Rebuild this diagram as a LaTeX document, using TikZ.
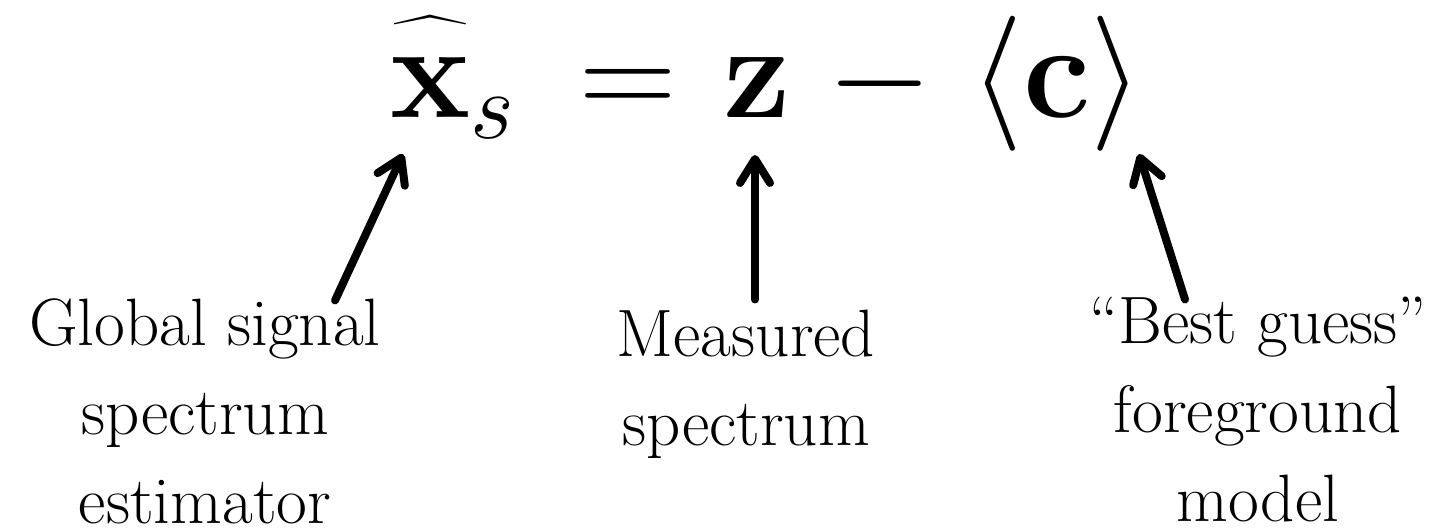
\documentclass[tikz,border=0pt]{standalone}
\usepackage{fix-cm}
\usepackage{exscale}
\usetikzlibrary{arrows.meta,calc}

\begin{document}
\begin{tikzpicture}[
    x=0.5pt,
    y=-0.5pt,
    term/.style={
        inner sep=0pt,
        anchor=base,
        font=\fontsize{67.5}{80}\selectfont
    },
    descr/.style={
        inner sep=0pt,
        anchor=north,
        align=center,
        font=\fontsize{33.5}{44.5}\selectfont
    },
    pointer/.style={
        line width=4pt,
        line cap=round,
        -{Straight Barb[round,length=12pt,width=15pt]}
    }
]

\useasboundingbox (0,0) rectangle (1444,528);

\node[term, anchor=base west] (xhat) at (390,118) {$\widehat{\mathbf{x}\vphantom{\mathbf{t}}}_s$};
\node[term] (eqsign) at (628,118) {$=$};
\node[term] (meas) at (757,118) {$\mathbf{z}$};
\node[term] (minus) at (880,118) {$-$};
\node[term] (model) at (1057,118) {$\langle\mathbf{c}\rangle$};

\coordinate (xtip) at (403,154);
\coordinate (ztip) at (755,155);
\coordinate (ctip) at (1139,154);

\node[descr] (glob) at (205,298.5) {Global signal\\spectrum\\estimator};
\node[descr] (measlbl) at (746,309.5) {Measured\\spectrum};
\node[descr] (bestlbl) at (1258,296.5) {“Best guess”\\foreground\\model};

\draw[pointer] ($(glob.north)+(130,2)$) -- (xtip);
\draw[pointer] ($(measlbl.north)+(9,-10)$) -- (ztip);
\draw[pointer] ($(bestlbl.north)+(-73,3)$) -- (ctip);

\end{tikzpicture}
\end{document}
